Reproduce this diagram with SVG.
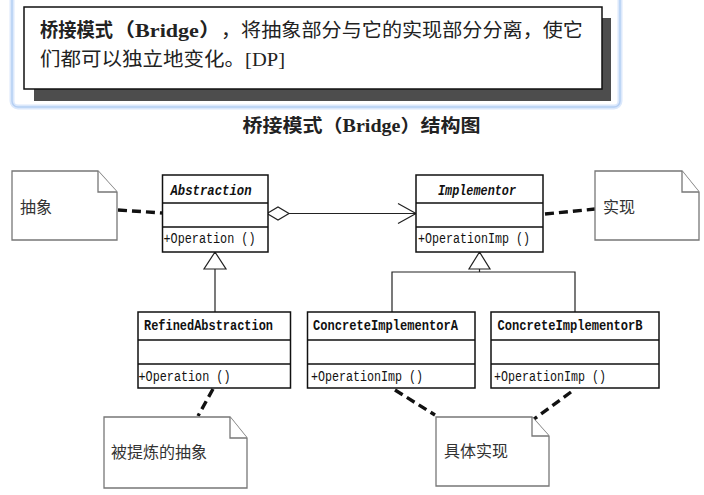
<svg xmlns="http://www.w3.org/2000/svg" width="704" height="495" viewBox="0 0 704 495">
<style>
.box{fill:#fff;stroke:#111;stroke-width:1.5}
.row{stroke:#111;stroke-width:1.5;fill:none}
.note{fill:#fff;stroke:#777;stroke-width:1.3}
.cn{font-family:"Noto Sans CJK SC","Liberation Serif",serif;font-size:16px;fill:#333}
.cls{font-family:"Liberation Mono",monospace;font-size:14.5px;fill:#111}
.b{font-weight:bold}
.i{font-style:italic}
.line{stroke:#222;stroke-width:1.2;fill:none}
.dash{stroke:#111;stroke-width:3.4;stroke-dasharray:9 5;fill:none}
.intro{font-family:"Liberation Serif","Noto Sans CJK SC",serif;font-size:19px;fill:#222}
</style>
<rect width="704" height="495" fill="#fff"/>
<g id="intro">
  <rect x="12" y="-10" width="608" height="117" rx="6" fill="#fff" stroke="#dbe8fb" stroke-width="5"/>
  <rect x="12" y="-10" width="608" height="117" rx="6" fill="none" stroke="#b5cff3" stroke-width="1.5"/>
  <rect x="34" y="18" width="577" height="83" fill="#4d4d4d"/>
  <rect x="24" y="7" width="578" height="82" fill="#fff" stroke="#111" stroke-width="1.5"/>
  <text class="intro" y="37"><tspan x="40" font-weight="bold" textLength="73" lengthAdjust="spacingAndGlyphs">桥接模式</tspan><tspan x="113" font-weight="bold" textLength="108" lengthAdjust="spacingAndGlyphs">（Bridge）</tspan><tspan x="221" textLength="362" lengthAdjust="spacingAndGlyphs">，将抽象部分与它的实现部分分离，使它</tspan></text>
  <text class="intro" x="40" y="66" textLength="245" lengthAdjust="spacingAndGlyphs">们都可以独立地变化。[DP]</text>
</g>
<g id="title">
  <text x="242.5" y="132" font-family="Liberation Serif,'Noto Sans CJK SC',serif" font-size="18" font-weight="bold" fill="#222" textLength="238" lengthAdjust="spacingAndGlyphs">桥接模式（Bridge）结构图</text>
</g>
<g id="connectors">
  <polygon points="267,213.5 278,207 289,213.5 278,220" fill="#fff" stroke="#222" stroke-width="1.2"/>
  <line class="line" x1="289" y1="213.5" x2="416" y2="213.5"/>
  <polyline class="line" points="398,203.5 416,213.5 398,223.5"/>
  <polygon points="215,252 204,269 226,269" fill="#fff" stroke="#222" stroke-width="1.2"/>
  <line class="line" x1="215" y1="269" x2="215" y2="312"/>
  <polygon points="479.5,252 469,269 490,269" fill="#fff" stroke="#222" stroke-width="1.2"/>
  <line class="line" x1="479.5" y1="269" x2="479.5" y2="272"/>
  <polyline class="line" points="392,312 392,272 575,272 575,312"/>
  <line class="dash" x1="118" y1="210" x2="162" y2="213"/>
  <line class="dash" x1="545" y1="214" x2="595" y2="209"/>
  <line class="dash" x1="213" y1="389" x2="198" y2="416"/>
  <line class="dash" x1="395" y1="390" x2="435" y2="415"/>
  <line class="dash" x1="571" y1="392" x2="534" y2="419"/>
</g>
<g id="note-abstraction">
  <path class="note" d="M12,171 H98 L117,192 V240 H12 Z"/>
  <path class="note" d="M98,171 V192 H117" fill="none"/>
  <text class="cn" x="20" y="213">抽象</text>
</g>
<g id="note-implementor">
  <path class="note" d="M595,171 H682 L699,192 V240 H595 Z"/>
  <path class="note" d="M682,171 V192 H699" fill="none"/>
  <text class="cn" x="603" y="213">实现</text>
</g>
<g id="note-refined">
  <path class="note" d="M104,417 H230 L247,438 V488 H104 Z"/>
  <path class="note" d="M230,417 V438 H247" fill="none"/>
  <text class="cn" x="111" y="458">被提炼的抽象</text>
</g>
<g id="note-concrete">
  <path class="note" d="M436,417 H532 L549,436 V486 H436 Z"/>
  <path class="note" d="M532,417 V436 H549" fill="none"/>
  <text class="cn" x="444" y="457">具体实现</text>
</g>
<g id="Abstraction">
  <rect class="box" x="162.5" y="175" width="105.5" height="77"/>
  <path class="row" d="M162.5,203 H268 M162.5,227 H268"/>
  <text class="cls b i" x="170.5" y="194.5" textLength="81" lengthAdjust="spacingAndGlyphs">Abstraction</text>
  <text class="cls" x="163.5" y="243" textLength="92" lengthAdjust="spacingAndGlyphs">+Operation ()</text>
</g>
<g id="Implementor">
  <rect class="box" x="416" y="175" width="127" height="77"/>
  <path class="row" d="M416,203 H543 M416,227 H543"/>
  <text class="cls b i" x="438" y="194.5" textLength="78" lengthAdjust="spacingAndGlyphs">Implementor</text>
  <text class="cls" x="418" y="243" textLength="112" lengthAdjust="spacingAndGlyphs">+OperationImp ()</text>
</g>
<g id="RefinedAbstraction">
  <rect class="box" x="138" y="312" width="152.5" height="76"/>
  <path class="row" d="M138,340 H290.5 M138,364 H290.5"/>
  <text class="cls b" x="144" y="330" textLength="129" lengthAdjust="spacingAndGlyphs">RefinedAbstraction</text>
  <text class="cls" x="138.5" y="381" textLength="92" lengthAdjust="spacingAndGlyphs">+Operation ()</text>
</g>
<g id="ConcreteImplementorA">
  <rect class="box" x="307.5" y="312" width="167.5" height="76"/>
  <path class="row" d="M307.5,340 H475 M307.5,364 H475"/>
  <text class="cls b" x="313" y="330" textLength="145" lengthAdjust="spacingAndGlyphs">ConcreteImplementorA</text>
  <text class="cls" x="311" y="381" textLength="112" lengthAdjust="spacingAndGlyphs">+OperationImp ()</text>
</g>
<g id="ConcreteImplementorB">
  <rect class="box" x="491" y="312" width="168" height="76"/>
  <path class="row" d="M491,340 H659 M491,364 H659"/>
  <text class="cls b" x="497.5" y="330" textLength="145" lengthAdjust="spacingAndGlyphs">ConcreteImplementorB</text>
  <text class="cls" x="494" y="381" textLength="112" lengthAdjust="spacingAndGlyphs">+OperationImp ()</text>
</g>
</svg>
